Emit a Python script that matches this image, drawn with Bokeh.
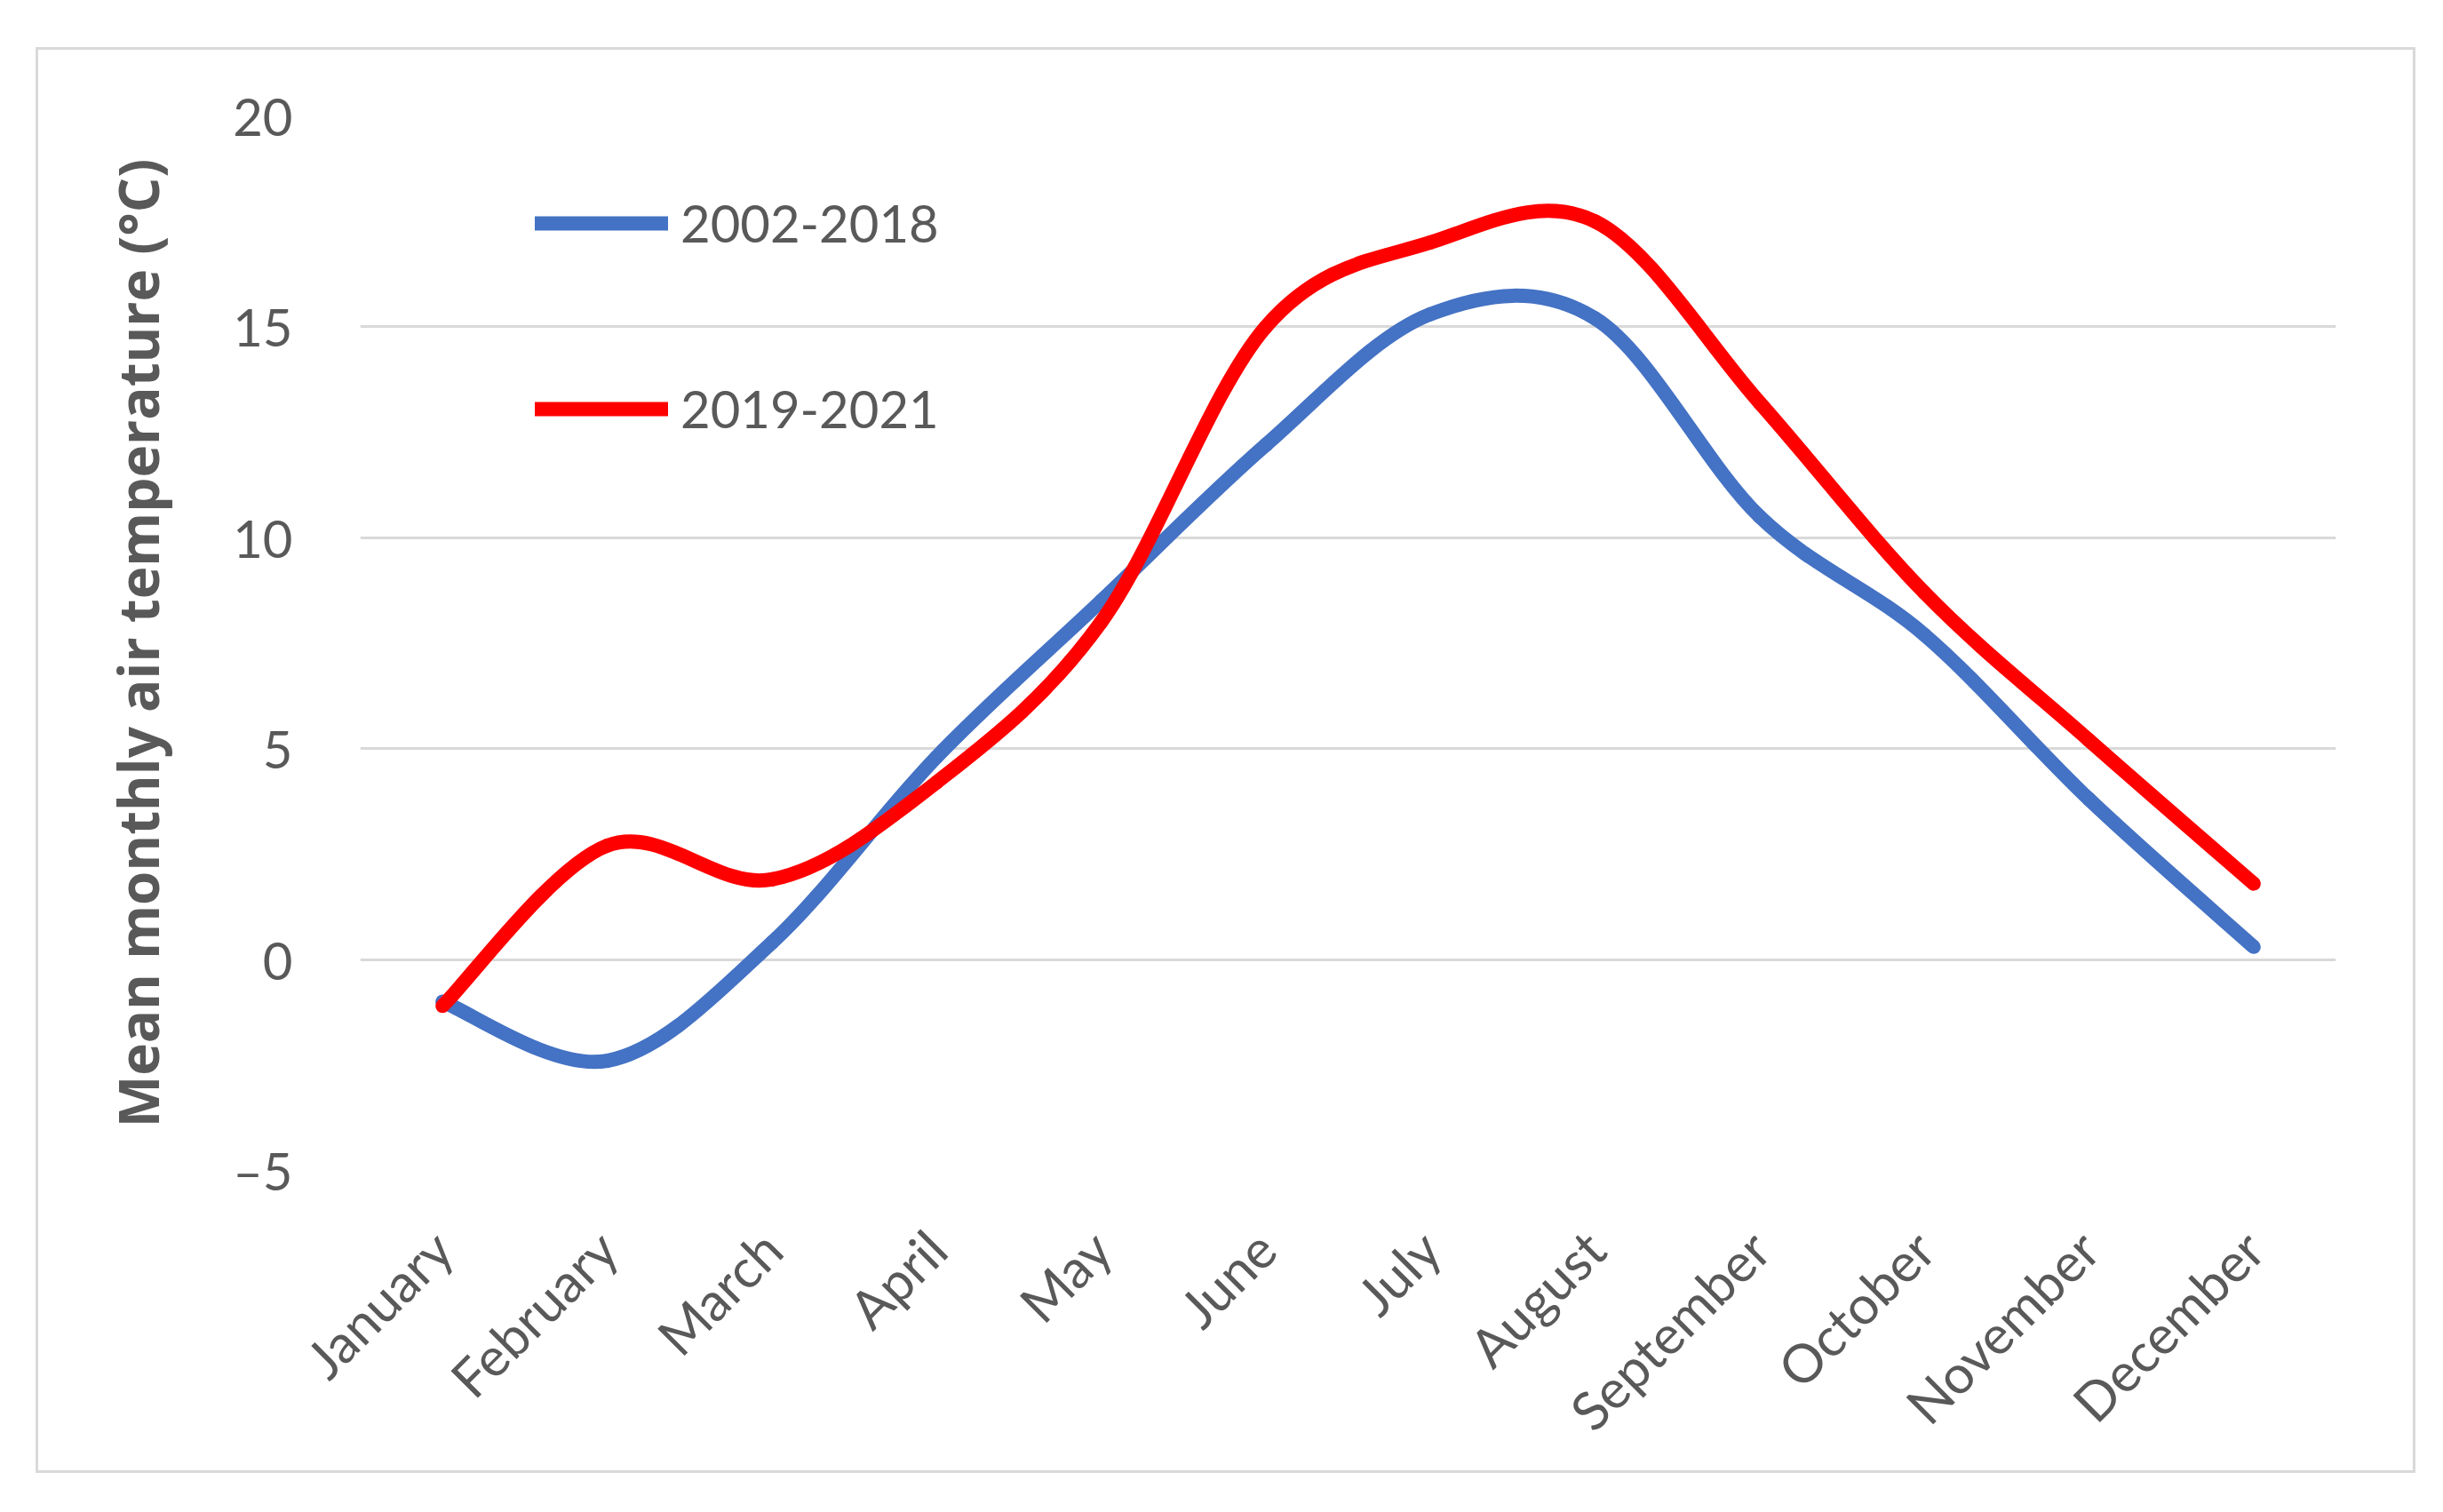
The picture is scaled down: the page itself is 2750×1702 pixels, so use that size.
import numpy as np
from bokeh.plotting import figure
from bokeh.models import (FixedTicker, Legend, LegendItem, ColumnDataSource,
                          Range1d)
from bokeh.embed import file_html
from bokeh.resources import INLINE

# ---------------- data ----------------
months = ["January", "February", "March", "April", "May", "June", "July",
          "August", "September", "October", "November", "December"]
temp_2002_2018 = [-1.0, -2.4, 0.4, 4.8, 8.5, 12.2, 15.3, 15.2, 10.5, 7.7, 3.8, 0.3]
temp_2019_2021 = [-1.1, 2.7, 1.9, 4.2, 8.0, 15.0, 17.0, 17.5, 13.2, 8.7, 5.2, 1.8]
series_names = ["2002-2018", "2019-2021"]
series_colors = ["#4472C4", "#FF0000"]
y_ticks = [-5, 0, 5, 10, 15, 20]
y_tick_labels = ["\u20135", "0", "5", "10", "15", "20"]

FONT = "Lato"
TXT = "#595959"


def smooth_source(xs, ys, t=1.0 / 6.0):
    """Excel-like smoothed line: cubic Bezier segments through the data
    points with Catmull-Rom style control points."""
    n = len(xs)

    def pt(i):
        i = max(0, min(n - 1, i))
        return xs[i], ys[i]

    d = {k: [] for k in ["x0", "y0", "x1", "y1", "cx0", "cy0", "cx1", "cy1"]}
    for i in range(n - 1):
        xa, ya = pt(i)
        xb, yb = pt(i + 1)
        xp, yp = pt(i - 1)
        xn, yn = pt(i + 2)
        d["x0"].append(xa); d["y0"].append(ya)
        d["x1"].append(xb); d["y1"].append(yb)
        d["cx0"].append(xa + (xb - xp) * t); d["cy0"].append(ya + (yb - yp) * t)
        d["cx1"].append(xb - (xn - xa) * t); d["cy1"].append(yb - (yn - ya) * t)
    return ColumnDataSource(d)


x_idx = list(range(len(months)))

p = figure(width=2679, height=1605, output_backend="svg", toolbar_location=None,
           x_range=Range1d(-0.5, len(months) - 0.5), y_range=Range1d(-5, 20),
           min_border_left=362, min_border_right=93, min_border_top=74,
           min_border_bottom=344)
p.styles = {"border": "3px solid #d9d9d9", "margin-left": "40px",
            "margin-top": "53px"}
p.outline_line_color = None
p.background_fill_color = "white"
p.border_fill_color = "white"

p.xgrid.visible = False
p.ygrid.grid_line_color = "#d9d9d9"
p.ygrid.grid_line_width = 3

renderers = []
for vals, col in zip([temp_2002_2018, temp_2019_2021], series_colors):
    src = smooth_source(x_idx, vals)
    r = p.bezier(x0="x0", y0="y0", x1="x1", y1="y1", cx0="cx0", cy0="cy0",
                 cx1="cx1", cy1="cy1", source=src, line_color=col,
                 line_width=16, line_cap="round", line_join="round")
    renderers.append(r)

# axes
yax = p.yaxis[0]
yax.ticker = FixedTicker(ticks=y_ticks)
yax.major_label_overrides = {t: l for t, l in zip(y_ticks, y_tick_labels)}
yax.axis_line_color = None
yax.major_tick_line_color = None
yax.minor_tick_line_color = None
yax.major_label_standoff = 70
yax.major_label_text_font = FONT
yax.major_label_text_font_size = "58px"
yax.major_label_text_color = TXT
yax.axis_label = "Mean monthly air temperature (\u00b0C)"
yax.axis_label_text_font = "Open Sans"
yax.axis_label_text_font_style = "bold"
yax.axis_label_text_font_size = "62px"
yax.axis_label_text_color = TXT
yax.axis_label_standoff = 62

xax = p.xaxis[0]
xax.ticker = FixedTicker(ticks=x_idx)
xax.major_label_overrides = {i: m for i, m in zip(x_idx, months)}
xax.axis_line_color = None
xax.major_tick_line_color = None
xax.minor_tick_line_color = None
xax.major_label_orientation = np.pi / 4
xax.major_label_standoff = 72
xax.major_label_text_font = FONT
xax.major_label_text_font_size = "60px"
xax.major_label_text_color = TXT

legend = Legend(
    items=[LegendItem(label=n, renderers=[r]) for n, r in zip(series_names, renderers)],
    location=(197, 823), orientation="vertical",
    glyph_width=150, glyph_height=60, label_height=60, label_standoff=14,
    spacing=140, padding=0, margin=0,
    label_text_font=FONT, label_text_font_size="58px", label_text_color=TXT,
    background_fill_alpha=0, border_line_color=None)
p.add_layout(legend)

open("out.html", "w").write(file_html(p, INLINE))
